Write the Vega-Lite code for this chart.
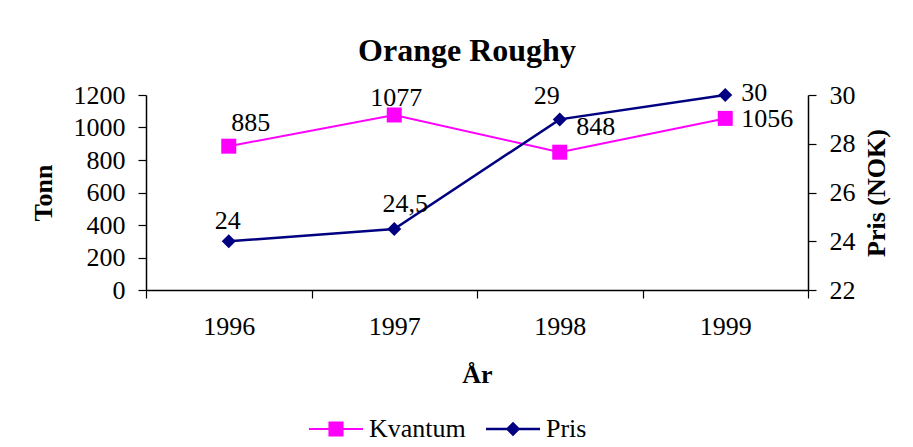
{
  "$schema": "https://vega.github.io/schema/vega-lite/v6.json",
  "width": 662,
  "height": 195,
  "autosize": "none",
  "padding": {"left": 146, "top": 95, "right": 105, "bottom": 157},
  "background": "white",
  "title": {"text": "Orange Roughy", "font": "Liberation Serif", "fontSize": 32, "fontWeight": "bold", "color": "black", "anchor": "middle", "dx": -10, "offset": 12},
  "data": {"values": [
    {"year": "1996", "Kvantum": 885, "Pris": 24},
    {"year": "1997", "Kvantum": 1077, "Pris": 24.5},
    {"year": "1998", "Kvantum": 848, "Pris": 29},
    {"year": "1999", "Kvantum": 1056, "Pris": 30}
  ]},
  "encoding": {
    "x": {"field": "year", "type": "ordinal", "scale": {"paddingInner": 0, "paddingOuter": 0},
      "axis": {"title": "År", "labelAngle": 0, "tickBand": "extent", "tickSize": 8, "labelPadding": 15, "titlePadding": 22}}
  },
  "layer": [
    {
      "encoding": {"y": {"field": "Kvantum", "type": "quantitative", "scale": {"domain": [0, 1200], "nice": false},
        "axis": {"title": "Tonn", "orient": "left", "format": "d", "values": [0, 200, 400, 600, 800, 1000, 1200], "tickSize": 8, "labelPadding": 13, "titlePadding": 17}}},
      "layer": [
        {"mark": {"type": "line", "color": "#ff00ff", "strokeWidth": 2}},
        {"mark": {"type": "point", "shape": "square", "filled": true, "size": 225, "opacity": 1, "color": "#ff00ff"}},
        {"transform": [{"filter": "false"}],
          "mark": {"type": "point", "filled": true, "opacity": 1},
          "encoding": {
            "color": {"datum": "Kvantum", "type": "nominal",
              "scale": {"domain": ["Kvantum", "Pris"], "range": ["#ff00ff", "#000080"]},
              "legend": {"orient": "none", "legendX": 162, "legendY": 306, "direction": "horizontal", "title": null,
                "symbolSize": 2916, "symbolOpacity": 1, "labelFont": "Liberation Serif", "labelFontSize": 26, "labelColor": "black", "labelOffset": 5, "columnPadding": 17}},
            "shape": {"datum": "Kvantum", "type": "nominal",
              "scale": {"domain": ["Kvantum", "Pris"], "range": ["M-1,-0.04H1V0.04H-1ZM-0.28,-0.28H0.28V0.28H-0.28Z", "M-1,-0.045H1V0.045H-1ZM0,-0.27L0.27,0L0,0.27L-0.27,0Z"]},
              "legend": {"orient": "none", "legendX": 162, "legendY": 306, "direction": "horizontal", "title": null,
                "symbolSize": 2916, "symbolOpacity": 1, "labelFont": "Liberation Serif", "labelFontSize": 26, "labelColor": "black", "labelOffset": 5, "columnPadding": 17}}
          }},
        {"transform": [{"filter": "datum.year == '1996'"}], "mark": {"type": "text", "align": "center", "baseline": "alphabetic", "dx": 22, "dy": -15, "font": "Liberation Serif", "fontSize": 26, "color": "black"}, "encoding": {"text": {"field": "Kvantum", "type": "quantitative", "format": "~g"}}},
        {"transform": [{"filter": "datum.year == '1997'"}], "mark": {"type": "text", "align": "center", "baseline": "alphabetic", "dx": 2, "dy": -9, "font": "Liberation Serif", "fontSize": 26, "color": "black"}, "encoding": {"text": {"field": "Kvantum", "type": "quantitative", "format": "~g"}}},
        {"transform": [{"filter": "datum.year == '1998'"}], "mark": {"type": "text", "align": "center", "baseline": "alphabetic", "dx": 36, "dy": -17, "font": "Liberation Serif", "fontSize": 26, "color": "black"}, "encoding": {"text": {"field": "Kvantum", "type": "quantitative", "format": "~g"}}},
        {"transform": [{"filter": "datum.year == '1999'"}], "mark": {"type": "text", "align": "left", "baseline": "alphabetic", "dx": 16, "dy": 9, "font": "Liberation Serif", "fontSize": 26, "color": "black"}, "encoding": {"text": {"field": "Kvantum", "type": "quantitative", "format": "~g"}}}
      ]
    },
    {
      "encoding": {"y": {"field": "Pris", "type": "quantitative", "scale": {"domain": [22, 30], "nice": false},
        "axis": {"title": "Pris (NOK)", "orient": "right", "values": [22, 24, 26, 28, 30], "tickSize": 8, "labelPadding": 13, "titlePadding": 8, "titleAngle": 270, "titleBaseline": "top"}}},
      "layer": [
        {"mark": {"type": "line", "color": "#000080", "strokeWidth": 2.5}},
        {"mark": {"type": "point", "shape": "diamond", "filled": true, "size": 196, "opacity": 1, "color": "#000080"}},
        {"transform": [{"filter": "datum.year == '1996'"}], "mark": {"type": "text", "align": "center", "baseline": "alphabetic", "dx": -1, "dy": -12, "font": "Liberation Serif", "fontSize": 26, "color": "black"}, "encoding": {"text": {"field": "Pris", "type": "quantitative", "format": "~g"}}},
        {"transform": [{"filter": "datum.year == '1997'"}], "mark": {"type": "text", "align": "center", "baseline": "alphabetic", "dx": 11, "dy": -17, "font": "Liberation Serif", "fontSize": 26, "color": "black"}, "encoding": {"text": {"field": "Pris", "type": "quantitative", "format": "~g"}}},
        {"transform": [{"filter": "datum.year == '1998'"}], "mark": {"type": "text", "align": "center", "baseline": "alphabetic", "dx": -13, "dy": -15, "font": "Liberation Serif", "fontSize": 26, "color": "black"}, "encoding": {"text": {"field": "Pris", "type": "quantitative", "format": "~g"}}},
        {"transform": [{"filter": "datum.year == '1999'"}], "mark": {"type": "text", "align": "left", "baseline": "alphabetic", "dx": 16, "dy": 6, "font": "Liberation Serif", "fontSize": 26, "color": "black"}, "encoding": {"text": {"field": "Pris", "type": "quantitative", "format": "~g"}}}
      ]
    }
  ],
  "resolve": {"scale": {"y": "independent"}},
  "config": {
    "locale": {"number": {"decimal": ",", "thousands": " ", "grouping": [3], "currency": ["", " kr"]}},
    "view": {"stroke": null},
    "axis": {"labelFont": "Liberation Serif", "labelFontSize": 26, "labelColor": "black", "titleFont": "Liberation Serif", "titleFontSize": 26, "titleFontWeight": "bold", "titleColor": "black", "domainColor": "black", "tickColor": "black", "grid": false, "domainWidth": 1.5, "tickWidth": 1.2}
  }
}
